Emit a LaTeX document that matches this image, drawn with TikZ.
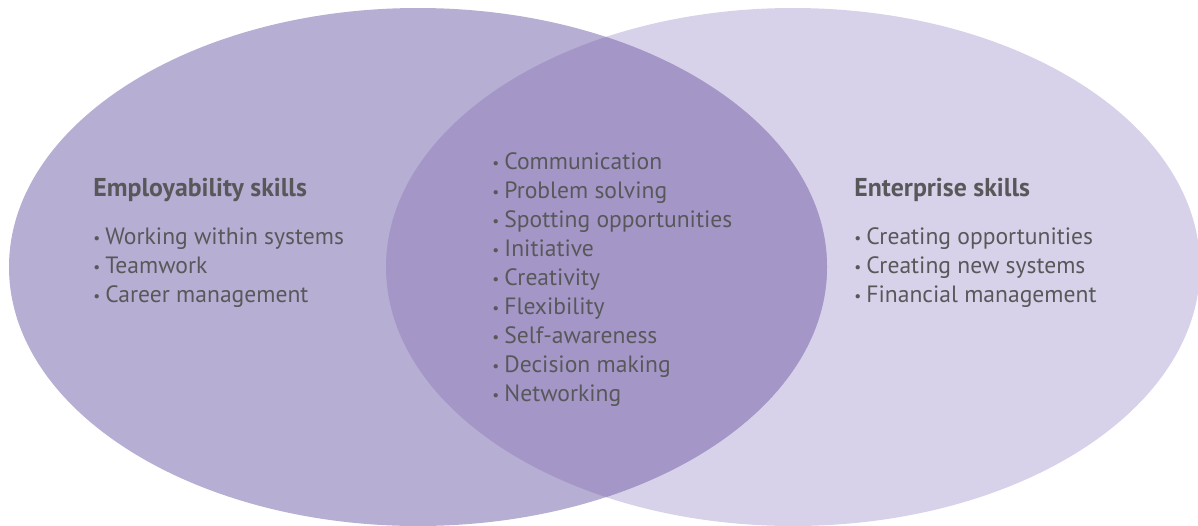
\documentclass[tikz,border=0pt]{standalone}
\usepackage{graphicx}
\usepackage{fontspec}
\setmainfont{PT Sans}
\usetikzlibrary{positioning}

\definecolor{empfill}{HTML}{B7AED4}
\definecolor{entfill}{HTML}{D7D2E9}
\definecolor{bothfill}{HTML}{A497C8}
\definecolor{skilltext}{HTML}{58585A}

\newcommand{\skillbullet}{\makebox[6pt][l]{\raisebox{0.5pt}{\scalebox{0.65}{•}}}}

\begin{document}
\begin{tikzpicture}[x=0.5pt,y=-0.5pt,
    heading/.style={anchor=base west,inner sep=0pt,text=skilltext,
      font=\fontsize{12.9}{14.5}\selectfont\bfseries},
    skill/.style={anchor=base west,inner sep=0pt,text=skilltext,
      font=\fontsize{11.8}{14.5}\selectfont}]
    \useasboundingbox (0,0) rectangle (1198,525);
    % the two sets
    \fill[entfill] (793,267) ellipse [x radius=407, y radius=259];
    \fill[empfill] (418,267) ellipse [x radius=409, y radius=259];
    \begin{scope}
      \clip (793,267) ellipse [x radius=407, y radius=259];
      \fill[bothfill] (418,267) ellipse [x radius=409, y radius=259];
    \end{scope}
    % left set
    \node[heading] (emp) at (93,196) {Employability skills};
    \foreach \s [count=\i] in {Working within systems,Teamwork,Career management}
      \node[skill] (emp-\i) at (93,215+29*\i) {\skillbullet\s};
    % right set
    \node[heading] (ent) at (854,196) {Enterprise skills};
    \foreach \s [count=\i] in {Creating opportunities,Creating new systems,Financial management}
      \node[skill] (ent-\i) at (854,215+29*\i) {\skillbullet\s};
    % overlap
    \foreach \s [count=\i] in {Communication,Problem solving,Spotting opportunities,
        Initiative,Creativity,Flexibility,Self-awareness,Decision making,Networking}
      \node[skill] (both-\i) at (492,140+29*\i) {\skillbullet\s};
\end{tikzpicture}
\end{document}
